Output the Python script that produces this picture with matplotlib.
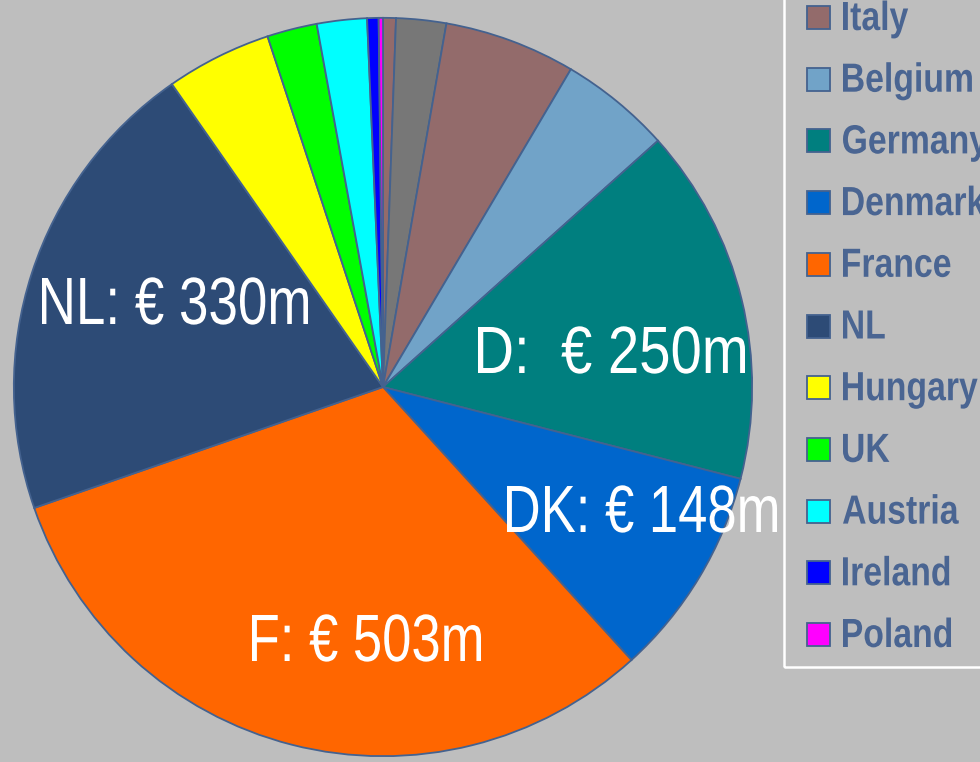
import matplotlib.pyplot as plt
from matplotlib.patches import PathPatch, Rectangle
from matplotlib.textpath import TextPath
from matplotlib.font_manager import FontProperties
from matplotlib.transforms import Affine2D

# slices clockwise from 12 o'clock; first two slices have no visible legend entry
slice_names = ["hidden 1", "hidden 2", "Italy", "Belgium", "Germany", "Denmark",
               "France", "NL", "Hungary", "UK", "Austria", "Ireland", "Poland"]
values = [9, 35, 92, 78, 250, 148, 503, 330, 74, 35, 35, 8, 3]
colors = ["#936B6B", "#777777", "#936B6B", "#71A3C8", "#007F7F", "#0066CC",
          "#FF6600", "#2D4B76", "#FFFF00", "#00FF00", "#00FFFF", "#0000FF", "#FF00FF"]

legend_names = ["Italy", "Belgium", "Germany", "Denmark", "France", "NL",
                "Hungary", "UK", "Austria", "Ireland", "Poland"]

# value labels inside the big slices
label_texts = ["NL: € 330m", "D:  € 250m", "DK: € 148m", "F: € 503m"]
# (left, right, baseline) in pixels from the top-left corner
label_boxes = [(42, 308, 324), (478, 745, 373), (507, 777, 532), (252, 481, 661)]

BG = "#BEBEBE"
EDGE = "#44628F"
TXT = "#4A6592"
W, H = 980, 762

fig = plt.figure(figsize=(W / 100, H / 100), dpi=100, facecolor=BG)

cx, cy, r = 383, 387, 371
ax = fig.add_axes([(cx - r) / W, (H - cy - r) / H, 2 * r / W, 2 * r / H])
ax.set_facecolor(BG)
wedges, _ = ax.pie(values, colors=colors, startangle=90, counterclock=False,
                   radius=1.0,
                   wedgeprops=dict(edgecolor=EDGE, linewidth=1.3))
ax.set_xlim(-1.005, 1.005)
ax.set_ylim(-1.005, 1.005)
ax.set_aspect("equal")
ax.axis("off")

# overlay in pixel units for the narrow text and the legend
ov = fig.add_axes([0, 0, 1, 1], zorder=5)
ov.set_xlim(0, W)
ov.set_ylim(0, H)
ov.axis("off")
ov.patch.set_alpha(0)

regular = FontProperties(family="Liberation Sans")
bold = FontProperties(family="Liberation Sans", weight="bold")


def narrow_text(s, left, baseline, cap, prop, color, xscale=None, right=None):
    """Draw text as a path, squeezed horizontally like Arial Narrow"""
    unit_cap = TextPath((0, 0), "H", size=100, prop=prop).get_extents().height / 100
    size = cap / unit_cap
    tp = TextPath((0, 0), s, size=size, prop=prop)
    ext = tp.get_extents()
    if right is not None:
        xscale = (right - left) / ext.width
    tr = Affine2D().translate(-ext.x0, 0).scale(xscale, 1).translate(left, H - baseline)
    ov.add_patch(PathPatch(tp, facecolor=color, edgecolor="none",
                           transform=tr + ov.transData))


for t, (x0, x1, base) in zip(label_texts, label_boxes):
    narrow_text(t, x0, base, 46, regular, "white", right=x1)

# legend (top and right are cut off by the figure edge, like the original)
ov.add_patch(Rectangle((784, H - 667), 400, 800, facecolor="none",
                       edgecolor="white", linewidth=1.8))
for i, name in enumerate(legend_names):
    base = 30 + 61.7 * i
    col = colors[slice_names.index(name)]
    ov.add_patch(Rectangle((807, H - base + 1), 23, 23, facecolor=col,
                           edgecolor=EDGE, linewidth=1.3))
    narrow_text(name, 843, base, 28, bold, TXT, xscale=0.83)

fig.savefig("out.png", dpi=100, facecolor=BG)
